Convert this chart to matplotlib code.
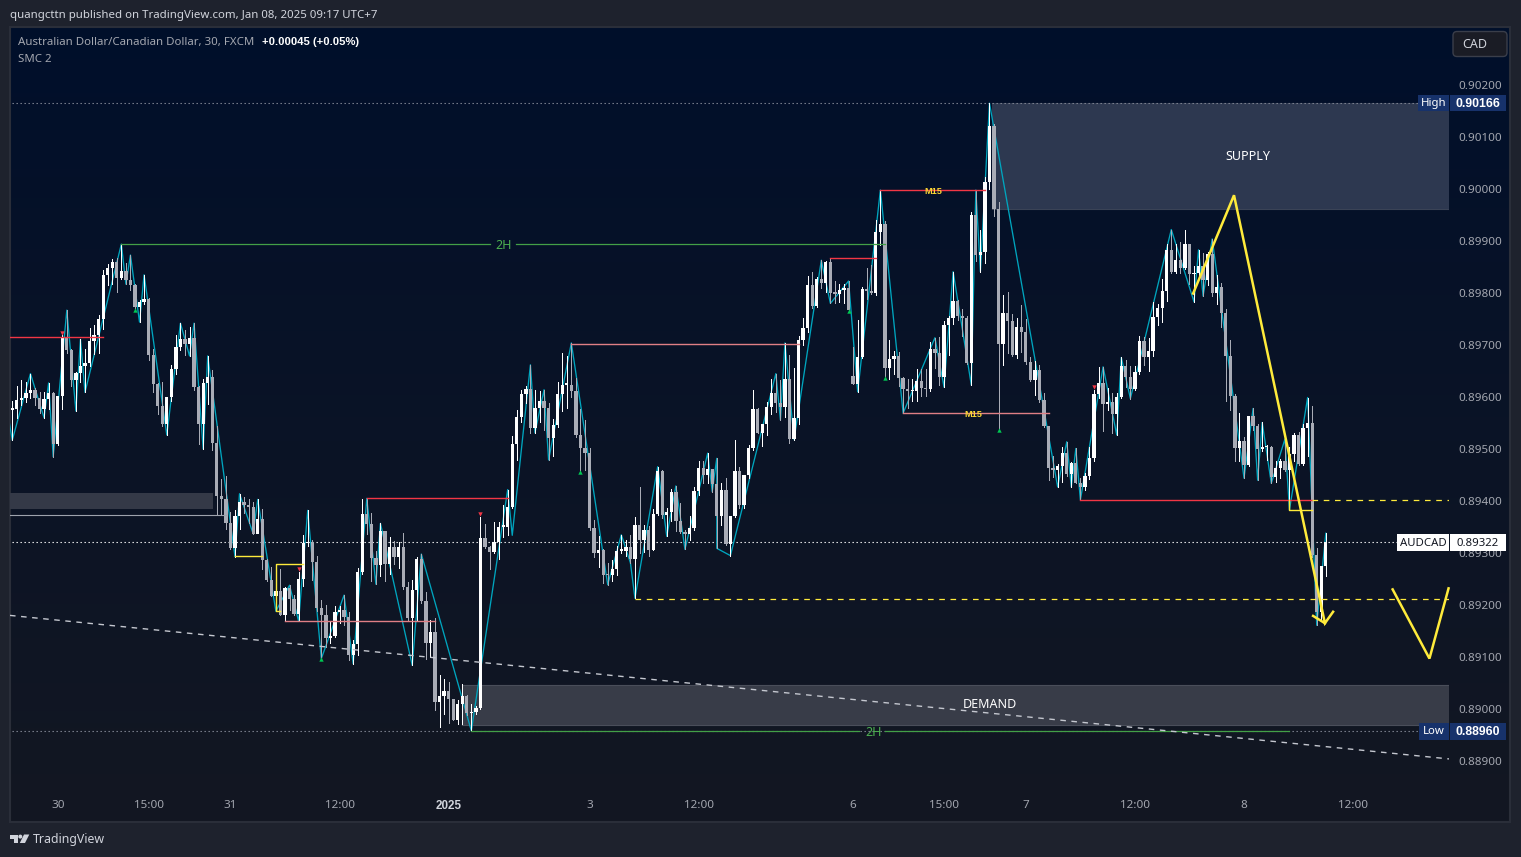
import numpy as np
import matplotlib
matplotlib.use("Agg")
import matplotlib.pyplot as plt
from matplotlib.patches import FancyBboxPatch, Polygon, Circle, Rectangle
from matplotlib.transforms import ScaledTranslation

plt.rcParams["font.family"] = ["Noto Sans", "DejaVu Sans"]

W, H = 1521, 857

# ── AUDCAD 30m candles, prices in 1e-5 units ──────────────────────────────────
HIGHS = [
    89593, 89622, 89634, 89629, 89646, 89618, 89611, 89611, 89628, 89611,
    89603, 89720, 89768, 89694, 89649, 89712, 89694, 89734, 89739, 89759,
    89845, 89857, 89866, 89868, 89895, 89858, 89874, 89818, 89787, 89836,
    89791, 89693, 89628, 89630, 89601, 89663, 89720, 89743, 89730, 89736,
    89743, 89622, 89636, 89680, 89653, 89545, 89444, 89449, 89379, 89383,
    89415, 89409, 89404, 89399, 89404, 89385, 89290, 89275, 89278, 89270,
    89235, 89239, 89220, 89264, 89335, 89383, 89326, 89295, 89210, 89201,
    89168, 89199, 89199, 89220, 89187, 89133, 89272, 89404, 89406, 89377,
    89305, 89358, 89343, 89331, 89324, 89322, 89339, 89245, 89249, 89293,
    89299, 89226, 89172, 89176, 89066, 89058, 89053, 89020, 89018, 89049,
    89028, 89010, 89006, 89370, 89356, 89314, 89360, 89360, 89393, 89423,
    89526, 89576, 89615, 89623, 89663, 89615, 89612, 89615, 89589, 89559,
    89630, 89685, 89679, 89705, 89637, 89578, 89557, 89503, 89365, 89334,
    89308, 89282, 89287, 89315, 89336, 89326, 89336, 89371, 89428, 89355,
    89352, 89386, 89467, 89461, 89387, 89424, 89430, 89397, 89346, 89373,
    89428, 89477, 89477, 89493, 89463, 89483, 89435, 89445, 89373, 89519,
    89467, 89451, 89509, 89615, 89580, 89549, 89592, 89636, 89646, 89634,
    89705, 89682, 89656, 89718, 89752, 89833, 89841, 89832, 89864, 89863,
    89867, 89824, 89819, 89818, 89824, 89697, 89749, 89813, 89849, 89854,
    89941, 89999, 89939, 89710, 89689, 89688, 89640, 89636, 89635, 89654,
    89655, 89654, 89706, 89715, 89717, 89747, 89756, 89842, 89787, 89771,
    89756, 89956, 89999, 89922, 90024, 90166, 90126, 89976, 89797, 89803,
    89761, 89753, 89778, 89751, 89678, 89670, 89662, 89609, 89545, 89487,
    89473, 89505, 89515, 89476, 89502, 89446, 89454, 89505, 89614, 89659,
    89659, 89618, 89608, 89608, 89677, 89673, 89661, 89661, 89718, 89716,
    89714, 89784, 89780, 89827, 89896, 89923, 89896, 89899, 89922, 89896,
    89852, 89884, 89877, 89880, 89905, 89835, 89820, 89771, 89711, 89607,
    89570, 89525, 89564, 89579, 89549, 89552, 89509, 89507, 89477, 89481,
    89520, 89505, 89531, 89533, 89549, 89600, 89584, 89310, 89276, 89339,
]
LOWS = [
    89518, 89560, 89586, 89592, 89600, 89586, 89570, 89561, 89578, 89486,
    89509, 89578, 89685, 89622, 89574, 89630, 89610, 89661, 89684, 89686,
    89732, 89816, 89818, 89802, 89828, 89818, 89807, 89770, 89745, 89780,
    89672, 89611, 89568, 89545, 89528, 89593, 89645, 89691, 89682, 89680,
    89614, 89511, 89501, 89588, 89499, 89376, 89376, 89348, 89308, 89294,
    89347, 89377, 89358, 89338, 89339, 89270, 89247, 89218, 89189, 89181,
    89170, 89191, 89181, 89170, 89237, 89314, 89249, 89190, 89098, 89120,
    89128, 89139, 89167, 89162, 89095, 89088, 89104, 89260, 89337, 89247,
    89241, 89256, 89247, 89261, 89279, 89272, 89231, 89172, 89085, 89172,
    89204, 89098, 89101, 88999, 88967, 88991, 88974, 88979, 88972, 88973,
    88990, 88959, 88992, 89001, 89311, 89270, 89301, 89289, 89332, 89335,
    89388, 89480, 89553, 89589, 89532, 89532, 89553, 89538, 89480, 89487,
    89544, 89575, 89580, 89601, 89525, 89458, 89461, 89346, 89294, 89275,
    89243, 89240, 89248, 89259, 89301, 89296, 89282, 89214, 89301, 89303,
    89296, 89306, 89374, 89368, 89333, 89362, 89344, 89339, 89308, 89326,
    89346, 89413, 89435, 89435, 89419, 89310, 89355, 89317, 89296, 89371,
    89387, 89387, 89445, 89499, 89531, 89506, 89528, 89569, 89573, 89557,
    89562, 89512, 89519, 89550, 89701, 89726, 89772, 89774, 89810, 89803,
    89781, 89781, 89783, 89781, 89767, 89626, 89611, 89676, 89790, 89799,
    89797, 89893, 89640, 89636, 89646, 89622, 89570, 89579, 89594, 89594,
    89603, 89603, 89613, 89656, 89624, 89620, 89681, 89742, 89749, 89718,
    89664, 89624, 89863, 89842, 89858, 90001, 89949, 89537, 89662, 89685,
    89679, 89676, 89688, 89665, 89631, 89604, 89592, 89544, 89441, 89447,
    89428, 89438, 89449, 89428, 89435, 89403, 89423, 89444, 89478, 89600,
    89536, 89576, 89531, 89528, 89599, 89621, 89598, 89614, 89645, 89662,
    89651, 89680, 89739, 89745, 89786, 89840, 89839, 89839, 89847, 89818,
    89784, 89830, 89795, 89816, 89795, 89780, 89736, 89594, 89576, 89478,
    89477, 89445, 89469, 89537, 89441, 89498, 89480, 89435, 89438, 89446,
    89459, 89384, 89478, 89471, 89470, 89487, 89294, 89162, 89175, 89257,
]
CLOSES = [
    89578, 89595, 89600, 89609, 89614, 89599, 89578, 89597, 89609, 89511,
    89603, 89715, 89691, 89634, 89647, 89661, 89666, 89709, 89720, 89751,
    89836, 89850, 89861, 89830, 89843, 89826, 89816, 89774, 89784, 89789,
    89682, 89626, 89584, 89549, 89601, 89655, 89697, 89712, 89703, 89714,
    89620, 89549, 89628, 89639, 89512, 89411, 89405, 89358, 89310, 89372,
    89399, 89393, 89389, 89338, 89366, 89287, 89249, 89218, 89228, 89181,
    89233, 89212, 89183, 89251, 89320, 89322, 89283, 89195, 89181, 89137,
    89141, 89187, 89191, 89178, 89104, 89126, 89264, 89376, 89356, 89291,
    89278, 89343, 89279, 89312, 89293, 89312, 89235, 89176, 89229, 89289,
    89208, 89127, 89149, 89014, 89026, 89035, 89020, 88979, 89010, 89026,
    88993, 88995, 89003, 89329, 89312, 89303, 89322, 89351, 89351, 89389,
    89511, 89563, 89607, 89617, 89542, 89580, 89594, 89580, 89523, 89548,
    89607, 89624, 89624, 89613, 89528, 89503, 89494, 89349, 89301, 89307,
    89259, 89258, 89271, 89305, 89305, 89313, 89290, 89355, 89326, 89346,
    89307, 89376, 89459, 89374, 89380, 89419, 89363, 89342, 89338, 89349,
    89421, 89465, 89451, 89463, 89434, 89373, 89423, 89319, 89373, 89459,
    89394, 89451, 89503, 89578, 89532, 89549, 89582, 89609, 89590, 89582,
    89636, 89521, 89561, 89710, 89733, 89816, 89776, 89828, 89820, 89860,
    89801, 89799, 89806, 89810, 89768, 89626, 89678, 89808, 89804, 89801,
    89918, 89933, 89656, 89674, 89679, 89637, 89616, 89612, 89613, 89631,
    89618, 89616, 89693, 89685, 89639, 89739, 89753, 89785, 89756, 89753,
    89666, 89951, 89874, 89879, 90014, 90122, 89962, 89703, 89762, 89747,
    89681, 89735, 89726, 89668, 89633, 89653, 89595, 89545, 89464, 89460,
    89468, 89493, 89453, 89474, 89436, 89428, 89449, 89483, 89607, 89628,
    89587, 89591, 89568, 89601, 89661, 89639, 89616, 89649, 89709, 89678,
    89689, 89755, 89772, 89805, 89884, 89841, 89864, 89849, 89895, 89837,
    89839, 89853, 89826, 89876, 89801, 89812, 89762, 89680, 89603, 89503,
    89516, 89470, 89564, 89545, 89501, 89504, 89505, 89447, 89464, 89478,
    89461, 89491, 89528, 89472, 89541, 89551, 89297, 89187, 89276, 89322,
]
# Candles open at the previous close, apart from the first bar and the weekly gap
FIRST_OPEN = 89576
GAP_OPENS = {185: 89641}

# ── SMC 2 indicator: zigzag pivots and swing markers ──────────────────────────
ZIG_BARS = [
    -1, 0, 4, 7, 8, 9, 12, 14, 15, 16, 24, 25, 26, 28, 29, 34, 37, 39, 40, 42,
    43, 49, 50, 53, 54, 58, 61, 63, 65, 68, 73, 75, 78, 80, 81, 88, 90, 101,
    109, 110, 114, 115, 117, 118, 123, 131, 134, 136, 137, 142, 144, 146, 148,
    153, 154, 155, 155, 158, 168, 169, 170, 172, 178, 180, 184, 186, 191, 196,
    203, 205, 207, 211, 212, 213, 215, 230, 232, 233, 234, 235, 240, 243, 244,
    246, 255, 260, 261, 262, 264, 271, 273, 274, 275, 277, 280, 281, 285, 287,
    289,
]
ZIG_PRICES = [
    89570, 89518, 89646, 89561, 89628, 89486, 89768, 89574, 89712, 89610,
    89895, 89818, 89874, 89745, 89836, 89528, 89743, 89680, 89743, 89501,
    89680, 89294, 89415, 89338, 89404, 89189, 89239, 89170, 89383, 89098,
    89220, 89088, 89406, 89241, 89358, 89085, 89299, 88959, 89423, 89335,
    89663, 89532, 89615, 89480, 89705, 89240, 89336, 89282, 89214, 89467,
    89333, 89430, 89308, 89493, 89419, 89483, 89310, 89296, 89646, 89557,
    89705, 89519, 89864, 89781, 89824, 89611, 89999, 89570, 89715, 89620,
    89842, 89624, 89999, 89842, 90166, 89428, 89515, 89428, 89502, 89403,
    89659, 89528, 89677, 89598, 89923, 89784, 89884, 89795, 89905, 89445,
    89579, 89441, 89552, 89435, 89520, 89384, 89600, 89162, 89339,
]
UP_MARK_BARS = [27, 68, 125, 184, 192, 217]
UP_MARK_PRICES = [89768, 89097, 89457, 89766, 89637, 89537]
DOWN_MARK_BARS = [11, 63, 103, 238]
DOWN_MARK_PRICES = [89724, 89270, 89376, 89620]

# Structure levels: start bar, end bar, price
RED_LEVELS = [(-1, 20, 89717), (78, 109, 89407), (180, 190, 89868),
              (191, 214, 89999), (235, 286, 89402)]
SALMON_LEVELS = [(60, 93, 89170), (123, 173, 89703), (196, 228, 89570)]
PALE_LEVELS = [(-1, 47, 89374)]
GREEN_LEVELS = [(24, 105, 89895), (110.8, 192, 89895), (101, 186.4, 88958), (192, 281, 88958)]
YELLOW_LEVELS = [(49, 55, 89295)]
YELLOW_STEP_BARS = [59, 58, 58, 64]
YELLOW_STEP_PRICES = [89190, 89190, 89279, 89279]
YELLOW_BOX_BARS = [281, 281, 286]
YELLOW_BOX_PRICES = [89402, 89383, 89383]
YELLOW_DASHED = [(286, 316.1, 89402), (137, 316.1, 89212)]

# Zones and hand drawings
SUPPLY_BARS = (215.5, 316.1)
SUPPLY_PRICES = (89963, 90166)
DEMAND_BARS = (99, 316.1)
DEMAND_PRICES = (88970, 89048)
OLD_ZONE_BARS = (-1, 44.2)
OLD_ZONE_PRICES = (89386, 89416)
TREND_BARS = [-0.5, 316.1]
TREND_PRICES = [89181, 88905]
PATH_BARS = [259.8, 268.8, 288.8, 290.6]
PATH_PRICES = [89800, 89989, 89166, 89188]
TAIL_BARS = [286.2, 288.8]
TAIL_PRICES = [89180, 89166]
FORECAST_BARS = [303.7, 311.8, 316.0]
FORECAST_PRICES = [89231, 89098, 89233]

HIGH_PRICE = 90166
LOW_PRICE = 88958
LAST_PRICE = 89322

TICK_BARS = [10, 30, 48, 72, 96, 127, 151, 185, 205, 223, 247, 271, 295]
TICK_LABELS = ["30", "15:00", "31", "12:00", "2025", "3", "12:00", "6", "15:00",
               "7", "12:00", "8", "12:00"]
PRICE_TICKS = [88900, 89000, 89100, 89200, 89300, 89400, 89500, 89600, 89700,
               89800, 89900, 90000, 90100, 90200]


def px(values):
    return np.asarray(values, dtype=float) / 1e5


highs, lows, closes = px(HIGHS), px(LOWS), px(CLOSES)
opens = np.r_[px(FIRST_OPEN), closes[:-1]]
for bar, price in GAP_OPENS.items():
    opens[bar] = px(price)
bars = np.arange(len(closes))

# ── Colours ───────────────────────────────────────────────────────────────────
OUTER = "#1e222d"
BORDER = "#2a2e39"
TEXT = "#d1d4dc"
MUTED = "#a3a6af"
UP = "#ffffff"
DOWN = "#a9acb6"
TEAL = "#00a5be"
RED = "#f23645"
SALMON = "#e07f85"
GREEN = "#43a047"
YELLOW = "#ffeb3b"
TAG = "#17326b"
BOLD = "Liberation Sans"

fig = plt.figure(figsize=(W / 100, H / 100), dpi=100, facecolor=OUTER)

# Pane background: full figure axes in pixel coordinates
bg = fig.add_axes([0, 0, 1, 1], zorder=0)
bg.set_xlim(0, W)
bg.set_ylim(H, 0)
bg.axis("off")
grad = np.linspace(0, 1, 256)[:, None, None] ** 0.9
top_c, bot_c = np.array([0, 15, 43]) / 255, np.array([19, 23, 34]) / 255
bg.imshow(top_c + (bot_c - top_c) * grad, extent=(10, 1510, 822, 27), aspect="auto",
          interpolation="bilinear", zorder=1)
bg.set_xlim(0, W)
bg.set_ylim(H, 0)
bg.add_patch(Rectangle((10, 27), 1500, 795, fill=False, edgecolor=BORDER, lw=1.5, zorder=2))

# Price pane
ax = fig.add_axes([10 / W, 1 - 822 / H, 1439 / W, 795 / H], zorder=1)
ax.patch.set_alpha(0)
for spine in ax.spines.values():
    spine.set_visible(False)
ax.set_xlim(-0.5, 316.1)
ax.set_ylim(0.887837, 0.903125)
ax.yaxis.tick_right()
ax.set_yticks(px(PRICE_TICKS))
ax.set_yticklabels([f"{p:.5f}" for p in px(PRICE_TICKS)], fontsize=8.4, color=MUTED, va="center")
ax.tick_params(axis="y", length=0, pad=6.5)
# nudge price labels one pixel down
nudge = ScaledTranslation(0, -1 / 100, fig.dpi_scale_trans)
for label in ax.get_yticklabels():
    label.set_transform(label.get_transform() + nudge)
ax.set_xticks(TICK_BARS)
ax.set_xticklabels(TICK_LABELS, fontsize=8.4, color=MUTED)
ax.tick_params(axis="x", length=0, pad=-16)
ax.get_xticklabels()[4].set_fontweight("bold")
ax.get_xticklabels()[4].set_fontfamily(BOLD)
ax.get_xticklabels()[4].set_color(TEXT)

# Zones
ax.fill_between(SUPPLY_BARS, *px(SUPPLY_PRICES), color="#2d3850", lw=0, zorder=1)
ax.plot(SUPPLY_BARS, [px(SUPPLY_PRICES[0])] * 2, color="#3a4356", lw=0.8, zorder=1)
ax.fill_between(DEMAND_BARS, *px(DEMAND_PRICES), color="#383c48", lw=0, zorder=1)
ax.plot(DEMAND_BARS, [px(DEMAND_PRICES[0])] * 2, color="#4a4e5a", lw=0.8, zorder=1)
ax.plot(DEMAND_BARS, [px(DEMAND_PRICES[1])] * 2, color="#4a4e5a", lw=0.8, zorder=1)
ax.fill_between(OLD_ZONE_BARS, *px(OLD_ZONE_PRICES), color="#343947", lw=0, zorder=1)

# Dotted high / low / last price lines
for price, colour in [(HIGH_PRICE, "#878c99"), (LOW_PRICE, "#878c99"), (LAST_PRICE, "#ffffff")]:
    ax.plot([-1, 317], [px(price)] * 2, color=colour, lw=0.8, dashes=(1.2, 2.4), zorder=2)

# Zigzag
ax.plot(ZIG_BARS, px(ZIG_PRICES), color=TEAL, lw=0.95, zorder=3)

# Candles
is_up = closes >= opens
colours = np.where(is_up, UP, DOWN)
ax.vlines(bars, lows, highs, colors=colours, lw=0.72, antialiased=False, zorder=4)
ax.bar(bars, np.maximum(np.abs(closes - opens), 0.00003), bottom=np.minimum(opens, closes),
       width=0.72, color=colours, lw=0, antialiased=False, zorder=5)

# Levels
for levels, colour, lw in [(RED_LEVELS, RED, 1.0), (SALMON_LEVELS, SALMON, 1.0),
                           (PALE_LEVELS, "#9ea3ad", 0.8), (GREEN_LEVELS, GREEN, 0.9),
                           (YELLOW_LEVELS, YELLOW, 1.0)]:
    for start, end, price in levels:
        ax.plot([start, end], [px(price)] * 2, color=colour, lw=lw, zorder=6)
ax.plot(YELLOW_STEP_BARS, px(YELLOW_STEP_PRICES), color=YELLOW, lw=1.0, zorder=6)
ax.plot(YELLOW_BOX_BARS, px(YELLOW_BOX_PRICES), color=YELLOW, lw=1.0, zorder=6)
for start, end, price in YELLOW_DASHED:
    ax.plot([start, end], [px(price)] * 2, color=YELLOW, lw=0.9, dashes=(4.5, 4.5), zorder=6)
ax.plot(TREND_BARS, px(TREND_PRICES), color="#c4c7cf", lw=1.0, dashes=(4, 4), zorder=6)

# Hand drawn path
ax.plot(PATH_BARS, px(PATH_PRICES), color=YELLOW, lw=1.8, zorder=7, solid_joinstyle="miter")
ax.plot(TAIL_BARS, px(TAIL_PRICES), color=YELLOW, lw=1.8, zorder=7)
ax.plot(FORECAST_BARS, px(FORECAST_PRICES), color=YELLOW, lw=1.8, zorder=7,
        solid_joinstyle="miter", clip_on=False)

# Swing markers
ax.scatter(UP_MARK_BARS, px(UP_MARK_PRICES), marker="^", s=10, color="#00c853", lw=0, zorder=7)
ax.scatter(DOWN_MARK_BARS, px(DOWN_MARK_PRICES), marker="v", s=10, color="#f23645", lw=0, zorder=7)

# Level and zone labels
ax.text(202.6, px(89997), "M15", color="#fdd835", fontsize=6.6, fontweight="bold", family=BOLD,
        ha="center", va="center", zorder=8)
ax.text(211.4, px(89568), "M15", color="#fdd835", fontsize=6.6, fontweight="bold", family=BOLD,
        ha="center", va="center", zorder=8)
ax.text(108, px(89893), "2H", color="#4caf50", fontsize=9, ha="center", va="center", zorder=8)
ax.text(189.4, px(88956), "2H", color="#4caf50", fontsize=9, ha="center", va="center", zorder=8)
ax.text(271.9, px(90064), "SUPPLY", color="#ffffff", fontsize=9, ha="center", va="center", zorder=8)
ax.text(215, px(89010), "DEMAND", color="#ffffff", fontsize=9, ha="center", va="center", zorder=8)

# Chrome above the pane: price tags, legend, publisher line, logo
top = fig.add_axes([0, 0, 1, 1], zorder=2)
top.patch.set_alpha(0)
top.set_xlim(0, W)
top.set_ylim(H, 0)
top.axis("off")


def tag(x0, x1, y0, y1, face, label, colour, bold=False):
    top.add_patch(Rectangle((x0, y0), x1 - x0, y1 - y0, facecolor=face, edgecolor="none"))
    font = dict(family=BOLD, fontweight="bold", fontsize=8.8) if bold else dict(fontsize=8.2)
    top.text((x0 + x1) / 2, (y0 + y1) / 2 + 0.5, label, color=colour, ha="center", va="center", **font)


tag(1418, 1449, 95, 111, TAG, "High", "#ffffff")
tag(1450, 1506, 95, 111, TAG, "0.90166", "#ffffff", True)
tag(1419, 1449, 723, 740, TAG, "Low", "#ffffff")
tag(1450, 1506, 723, 740, TAG, "0.88960", "#ffffff", True)
tag(1397, 1449, 534, 551, "#ffffff", "AUDCAD", "#131722")
tag(1450, 1506, 534, 551, "#ffffff", "0.89322", "#131722")

top.add_patch(FancyBboxPatch((1453, 31.5), 54, 25, boxstyle="round,pad=0,rounding_size=4",
                             facecolor="#1a1c25", edgecolor="#3a3e4a", lw=1))
top.text(1462, 44.5, "CAD", color=TEXT, fontsize=9, va="center")

top.text(10, 15, "quangcttn published on TradingView.com, Jan 08, 2025 09:17 UTC+7",
         color=TEXT, fontsize=8.25, va="center")
top.text(18, 42, "Australian Dollar/Canadian Dollar, 30, FXCM", color=MUTED, fontsize=8.25, va="center")
top.text(262, 42, "+0.00045 (+0.05%)", color="#ffffff", fontsize=8.1, va="center", fontweight="bold",
         family=BOLD)
top.text(18, 59, "SMC 2", color=MUTED, fontsize=8.25, va="center")

top.add_patch(Polygon([(10, 834.5), (18, 834.5), (18, 843), (14, 843), (14, 838.5), (10, 838.5)],
                      facecolor=TEXT, edgecolor="none"))
top.add_patch(Circle((20.3, 836.6), 2, facecolor=TEXT, edgecolor="none"))
top.add_patch(Polygon([(24, 834.5), (29.3, 834.5), (25, 843), (19.8, 843)], facecolor=TEXT, edgecolor="none"))
top.text(33, 839, "TradingView", color=TEXT, fontsize=8.9, va="center")

fig.savefig("out.png", dpi=100, facecolor=OUTER)
